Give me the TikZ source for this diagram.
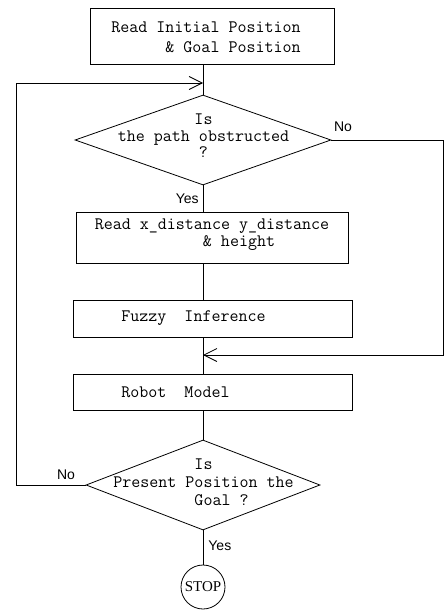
\documentclass[tikz,border=0pt]{standalone}
\usepackage{fontspec}
\newfontfamily\lblfont{Liberation Sans}
\newfontfamily\stopfont{Liberation Serif}
\usetikzlibrary{shapes.geometric,arrows.meta}
\begin{document}
\begin{tikzpicture}[x=1pt,y=-1pt,
  line width=0.8pt,
  procbox/.style={draw, rectangle, inner sep=0pt},
  decis/.style={draw, diamond, inner sep=0pt, aspect=2},
  txt/.style={inner sep=0pt, font=\ttfamily\fontsize{17.5}{17}\selectfont},
  lbl/.style={inner sep=0pt, font=\lblfont\fontsize{14}{16}\selectfont},
  arr/.style={-{Straight Barb[length=13pt,width=13pt,line width=0.8pt]}},
]
\useasboundingbox (0,0) rectangle (445,610);
\coordinate (sp) at (203,0);
\coordinate (lx) at (16,0);
\coordinate (rx) at (443.5,0);
\coordinate (j1) at (203,83);
\coordinate (j2) at (203,355);

% boxes
\node[procbox, minimum width=244pt, minimum height=56pt] (b1) at (212,36) {};
\node[txt, align=right, font=\ttfamily\fontsize{17.5}{20}\selectfont] (t1) at (206,37) {Read Initial Position\\\& Goal Position};

\node[decis, minimum width=256pt, minimum height=90pt] (d1) at (203,140) {};
\node[txt, align=center, font=\ttfamily\fontsize{17.5}{16.5}\selectfont] (t2) at (203.5,136) {Is\\the path obstructed\\?};

\node[procbox, minimum width=272pt, minimum height=51pt] (b2) at (212,237.5) {};
\node[txt, align=left] (t3) at (212,235) {Read x\_distance y\_distance\\\hphantom{xxxxxxxxxxxx}\& height};

\node[procbox, minimum width=279pt, minimum height=37pt] (b3) at (212.5,318.5) {};
\node[txt, anchor=west] (t4) at (121,318) {Fuzzy\hphantom{xx}Inference};

\node[procbox, minimum width=279pt, minimum height=36pt] (b4) at (212.5,392) {};
\node[txt, anchor=west] (t5) at (121,392) {Robot\hphantom{xx}Model};

\node[decis, minimum width=234pt, minimum height=90pt] (d2) at (203,485) {};
\node[txt, align=left, font=\ttfamily\fontsize{17.5}{18}\selectfont] (t6) at (203.5,482) {\hphantom{xxxxxxxxx}Is\\Present Position the\\\hphantom{xxxxxxxxx}Goal ?};

\node[draw, circle, minimum size=44pt, inner sep=0pt, font=\stopfont\fontsize{15}{17}\selectfont] (stop) at (203,587) {STOP};

% connectors
\draw (b1.south -| sp) -- (d1.north);
\draw (d1.south) -- (b2.north -| sp);
\draw (b2.south -| sp) -- (b3.north -| sp);
\draw (b3.south -| sp) -- (b4.north -| sp);
\draw (b4.south -| sp) -- (d2.north);
\draw (d2.south) -- (stop.north);
\draw[arr] (d2.west) -- (d2.west -| lx) |- (j1);
\draw[arr] (d1.east) -- (d1.east -| rx) |- (j2);

% labels
\node[lbl] (no1) at (343,127) {No};
\node[lbl, anchor=east] (yes1) at (199,199) {Yes};
\node[lbl] (no2) at (66,475) {No};
\node[lbl, anchor=west] (yes2) at (208,546) {Yes};
\end{tikzpicture}
\end{document}
